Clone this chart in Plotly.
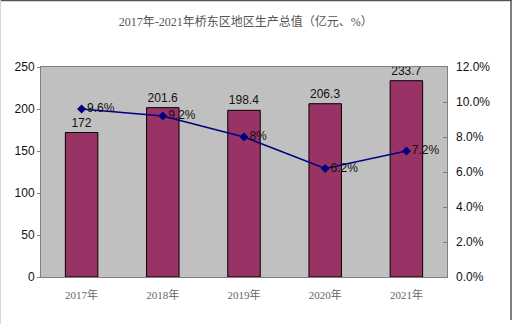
import plotly.graph_objects as go

years = ["2017年", "2018年", "2019年", "2020年", "2021年"]
gdp = [172, 201.6, 198.4, 206.3, 233.7]          # 亿元
growth = [0.096, 0.092, 0.080, 0.062, 0.072]     # 增速
growth_labels = ["9.6%", "9.2%", "8%", "6.2%", "7.2%"]
gdp_labels = ["172", "201.6", "198.4", "206.3", "233.7"]

sans = "Liberation Sans, Arial, sans-serif"
serif = "Liberation Serif, Noto Sans CJK SC, serif"

fig = go.Figure()

fig.add_trace(go.Bar(
    x=years, y=gdp,
    marker=dict(color="#993366", line=dict(color="#000000", width=1)),
    width=0.4,
    text=gdp_labels, textposition="outside",
    textfont=dict(family=sans, size=12, color="#111111"),
    cliponaxis=False,
    showlegend=False,
))

fig.add_trace(go.Scatter(
    x=years, y=growth, yaxis="y2",
    mode="lines+markers+text",
    line=dict(color="#000080", width=1.5),
    marker=dict(symbol="diamond", size=7, color="#000080"),
    text=growth_labels, textposition="middle right",
    textfont=dict(family=sans, size=12, color="#111111"),
    cliponaxis=False,
    showlegend=False,
))

fig.update_layout(
    width=512, height=324,
    margin=dict(l=41, r=65, t=67, b=47),
    paper_bgcolor="white",
    plot_bgcolor="#C0C0C0",
    bargap=0.6,
    title=dict(
        text="2017年-2021年桥东区地区生产总值（亿元、%）",
        x=0.48, xanchor="center", y=1 - 22 / 324, yanchor="middle",
        font=dict(family=serif, size=12, color="#555555"),
    ),
    xaxis=dict(
        showgrid=False, showline=True, linecolor="#808080", mirror=True,
        ticks="", tickfont=dict(family=serif, size=11, color="#666666"),
        ticklabelstandoff=8,
    ),
    yaxis=dict(
        range=[0, 250], dtick=50, showgrid=False,
        showline=True, linecolor="#808080", mirror=True,
        ticks="outside", ticklen=3, tickcolor="#808080",
        tickfont=dict(family=sans, size=12, color="#111111"),
        zeroline=False,
    ),
    yaxis2=dict(
        range=[0, 0.12], dtick=0.02, tickformat=".1%",
        overlaying="y", side="right", showgrid=False,
        ticks="inside", ticklen=4, tickcolor="#808080",
        tickfont=dict(family=sans, size=12, color="#111111"),
        ticklabelstandoff=8,
        zeroline=False,
    ),
    shapes=[
        dict(type="line", xref="paper", yref="paper",
             x0=-41 / 406, x1=(512 - 41) / 406, y0=1 + 66.5 / 210, y1=1 + 66.5 / 210,
             line=dict(color="#555555", width=1.5)),
        dict(type="line", xref="paper", yref="paper",
             x0=(511 - 41) / 406, x1=(511 - 41) / 406, y0=1 + 67 / 210, y1=-43 / 210,
             line=dict(color="#555555", width=1.5)),
        dict(type="line", xref="paper", yref="paper",
             x0=-40.5 / 406, x1=-40.5 / 406, y0=1 + 67 / 210, y1=-47 / 210,
             line=dict(color="#d8d8d8", width=1)),
    ],
)

fig.write_html("out.html")
